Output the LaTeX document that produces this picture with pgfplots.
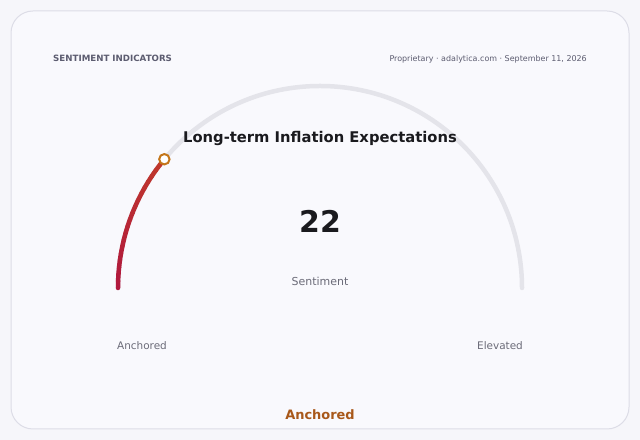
\documentclass[border=0pt]{standalone}
\usepackage{pgfplots}
\pgfplotsset{compat=1.18}
\usepackage{pgfplotstable}
\usepackage{fontspec}
\setmainfont{DejaVu Sans}
\definecolor{pagebg}{HTML}{F6F6FA}
\definecolor{cardbg}{HTML}{F9F9FD}
\definecolor{cardborder}{HTML}{DDDDE7}
\definecolor{track}{HTML}{E4E4EA}
\definecolor{arcA}{HTML}{B0183E}
\definecolor{arcB}{HTML}{C0382C}
\definecolor{mark}{HTML}{C4761A}
\definecolor{hdr}{HTML}{5C5C70}
\definecolor{txt}{HTML}{6B6B78}
\definecolor{ttl}{HTML}{1A1A1E}
\definecolor{zone}{HTML}{A8581A}
\pgfplotstableread{
value radius
22 202
}\gaugedata
\pgfplotstablegetelem{0}{value}\of\gaugedata
\let\gval\pgfplotsretval
\begin{document}
\begin{tikzpicture}
\begin{axis}[width=640bp,height=440bp,scale only axis,
  xmin=0,xmax=640,ymin=0,ymax=440,hide axis,clip=false]
\fill[pagebg] (axis cs:0,0) rectangle (axis cs:640,440);
\draw[cardborder,fill=cardbg,line width=1bp,rounded corners=22bp] (axis cs:11,11) rectangle (axis cs:629,429);
% track
\draw[track,line width=4.5bp,line cap=round] (axis cs:118,152) arc[start angle=180,end angle=0,radius=202bp];
% value arc with gradient
\pgfmathsetmacro{\endang}{180-1.8*\gval}
\pgfplotsforeachungrouped \i in {0,...,19}{
  \pgfmathsetmacro{\aa}{180-(180-\endang)*\i/20}
  \pgfmathsetmacro{\ab}{180-(180-\endang)*(\i+1)/20}
  \pgfmathsetmacro{\pc}{100*\i/19}
  \edef\temp{\noexpand\draw[arcB!\pc!arcA,line width=4.5bp,line cap=round] (axis cs:320,152) ++(\aa:202bp) arc[start angle=\aa,end angle=\ab,radius=202bp];}
  \temp
}
\addplot[only marks,mark=*,mark size=5.2bp,draw=mark,fill=white,line width=2bp]
  table[x expr={320+\thisrow{radius}*cos(180-1.8*\thisrow{value})},y expr={152+\thisrow{radius}*sin(180-1.8*\thisrow{value})}] {\gaugedata};
% texts
\node[inner sep=0pt,anchor=base west,hdr,font=\fontsize{8.7}{10}\selectfont\bfseries] at (axis cs:53,378) {SENTIMENT INDICATORS};
\node[inner sep=0pt,anchor=base east,hdr,font=\fontsize{8.0}{10}\selectfont] at (axis cs:587,378) {Proprietary · adalytica.com · September 11, 2026};
\node[anchor=base,ttl,font=\fontsize{14.8}{16}\selectfont\bfseries] at (axis cs:320,297.5) {Long-term Inflation Expectations};
\node[anchor=base,ttl,font=\fontsize{30}{32}\selectfont\bfseries] at (axis cs:320,207) {22};
\node[anchor=base,txt,font=\fontsize{11}{13}\selectfont] at (axis cs:320,154) {Sentiment};
\node[anchor=base,txt,font=\fontsize{10.5}{12}\selectfont] at (axis cs:142,90) {Anchored};
\node[anchor=base,txt,font=\fontsize{10.5}{12}\selectfont] at (axis cs:500,90) {Elevated};
\node[anchor=base,zone,font=\fontsize{13}{15}\selectfont\bfseries] at (axis cs:320,20) {Anchored};
\end{axis}
\end{tikzpicture}
\end{document}
